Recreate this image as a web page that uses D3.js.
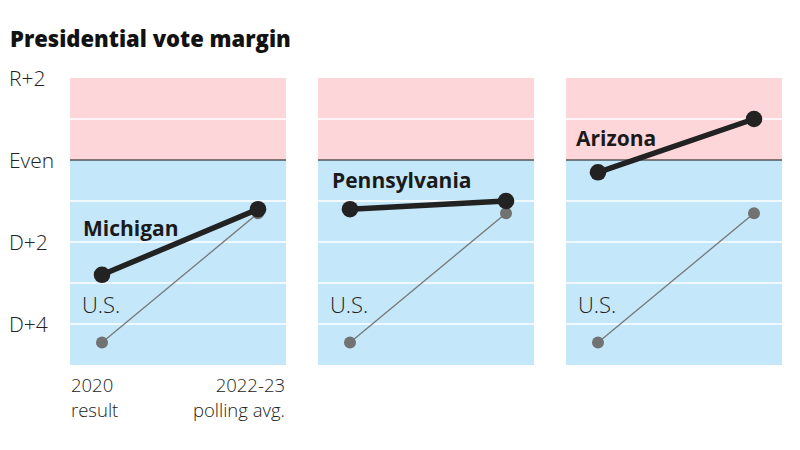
<!DOCTYPE html>
<html>
<head>
<meta charset="utf-8">
<script src="https://cdn.jsdelivr.net/npm/d3@7"></script>
<style>
  body { margin: 0; background: #fff; }
  svg text { font-family: "Open Sans", Roboto, sans-serif; }
</style>
</head>
<body>
<svg id="chart" width="800" height="450"></svg>
<script>
// ---- data ----
const periods = ["2020", "2022-23"];
const periodSub = ["result", "polling avg."];
const states = ["Michigan", "Pennsylvania", "Arizona"];
// margin, positive = Republican, negative = Democratic
const michigan = [-2.8, -1.2];
const pennsylvania = [-1.2, -1.0];
const arizona = [-0.3, 1.0];
const usValues = [-4.45, -1.3];
const yTickValues = [2, 0, -2, -4];
const yTickLabels = ["R+2", "Even", "D+2", "D+4"];
const gridValues = [1, 0, -1, -2, -3, -4];

const stateValues = [michigan, pennsylvania, arizona];

// ---- layout ----
const svg = d3.select("#chart");
const panelScale = d3.scaleBand().domain(states).range([70, 782]).paddingInner(32 / 248).paddingOuter(0);
const pw = panelScale.bandwidth();
const y = d3.scaleLinear().domain([2, -5]).range([78, 365]);
const x = d3.scalePoint().domain(periods).range([32, 188]);

const pink = "#fdd6d9", blue = "#c4e7fa";
const labelPos = [{dx: 13, dy: 236}, {dx: 14, dy: 188}, {dx: 10, dy: 146}];

// title
svg.append("text").attr("x", 10).attr("y", 47)
  .style("font-weight", 800).style("font-size", "22px").attr("fill", "#121212")
  .text("Presidential vote margin");

// y axis labels
svg.append("g").selectAll("text").data(yTickValues).join("text")
  .attr("x", 9).attr("y", d => y(d)).attr("dy", "0.36em")
  .style("font-size", "21px").style("font-weight", 300).attr("fill", "#222")
  .text((d, i) => yTickLabels[i]);

states.forEach((s, si) => {
  const g = svg.append("g").attr("transform", `translate(${panelScale(s)},0)`);
  g.append("rect").attr("x", 0).attr("width", pw).attr("y", y(2)).attr("height", y(0) - y(2)).attr("fill", pink);
  g.append("rect").attr("x", 0).attr("width", pw).attr("y", y(0)).attr("height", y(-5) - y(0)).attr("fill", blue);
  g.selectAll("line.grid").data(gridValues).join("line")
    .attr("x1", 0).attr("x2", pw).attr("y1", d => y(d)).attr("y2", d => y(d))
    .attr("stroke", d => d === 0 ? "#111" : "#fff")
    .attr("stroke-width", d => d === 0 ? 1.2 : 1.5);

  const line = d3.line().x((d, i) => x(periods[i])).y(d => y(d));
  g.append("path").datum(usValues).attr("d", line).attr("fill", "none").attr("stroke", "#777").attr("stroke-width", 1.3);
  g.selectAll("circle.us").data(usValues).join("circle")
    .attr("cx", (d, i) => x(periods[i])).attr("cy", d => y(d)).attr("r", 6).attr("fill", "#727272");
  g.append("path").datum(stateValues[si]).attr("d", line).attr("fill", "none").attr("stroke", "#222").attr("stroke-width", 5.5);
  g.selectAll("circle.st").data(stateValues[si]).join("circle")
    .attr("cx", (d, i) => x(periods[i])).attr("cy", d => y(d)).attr("r", 8.3).attr("fill", "#222");

  g.append("text").attr("x", labelPos[si].dx).attr("y", labelPos[si].dy)
    .style("font-size", "21px").style("font-weight", 700).attr("fill", "#1a1a1a").text(s);
  g.append("text").attr("x", 12).attr("y", 313)
    .style("font-size", "22px").style("font-weight", 300).attr("fill", "#222").text("U.S.");
});

// x labels (first panel)
const x0 = panelScale(states[0]);
const xl = svg.append("g").style("font-size", "18.5px").style("font-weight", 300).attr("fill", "#222");
xl.append("text").attr("x", x0 + 1).attr("y", 392).text(periods[0]);
xl.append("text").attr("x", x0 + 1).attr("y", 417).text(periodSub[0]);
xl.append("text").attr("x", x0 + pw - 1).attr("y", 392).attr("text-anchor", "end").text(periods[1]);
xl.append("text").attr("x", x0 + pw - 1).attr("y", 417).attr("text-anchor", "end").text(periodSub[1]);
</script>
</body>
</html>
